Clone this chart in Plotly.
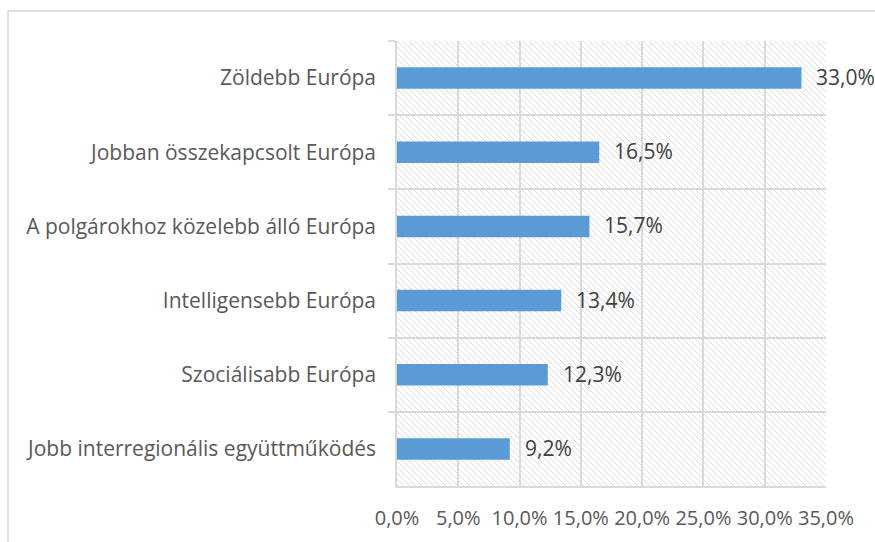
import plotly.graph_objects as go
import base64

categories = [
    "Zöldebb Európa",
    "Jobban összekapcsolt Európa",
    "A polgárokhoz közelebb álló Európa",
    "Intelligensebb Európa",
    "Szociálisabb Európa",
    "Jobb interregionális együttműködés",
]
values = [33.0, 16.5, 15.7, 13.4, 12.3, 9.2]
tick_values = [0, 5, 10, 15, 20, 25, 30, 35]
tick_labels = ["0,0%", "5,0%", "10,0%", "15,0%", "20,0%", "25,0%", "30,0%", "35,0%"]
value_labels = [f"{v:.1f}".replace(".", ",") + "%" for v in values]

FONT = "Open Sans"
W, H = 875, 542
ml, mr, mt, mb = 397, 49, 41, 56
pw, ph = W - ml - mr, H - mt - mb

# hatched background pattern for plot area
svg = (
    f'<svg xmlns="http://www.w3.org/2000/svg" width="{pw}" height="{ph}" '
    f'viewBox="0 0 {pw} {ph}" preserveAspectRatio="none">'
    '<defs><pattern id="h" patternUnits="userSpaceOnUse" width="6" height="6">'
    '<path d="M-1,-1 L7,7 M-1,5 L1,7 M5,-1 L7,1" stroke="#dcdcdc" stroke-width="1"/>'
    '</pattern></defs>'
    f'<rect width="{pw}" height="{ph}" fill="url(#h)"/></svg>'
)
uri = "data:image/svg+xml;base64," + base64.b64encode(svg.encode()).decode()

fig = go.Figure()
fig.add_trace(go.Bar(
    y=categories, x=values, orientation="h",
    marker=dict(color="#5b9bd5", line=dict(width=0)),
    width=0.29, hoverinfo="skip",
))

for cat, v, lab in zip(categories, values, value_labels):
    fig.add_annotation(x=v, y=cat, xref="x", yref="y", text=lab,
                       showarrow=False, xanchor="left", yanchor="middle",
                       xshift=13, yshift=1,
                       font=dict(family=FONT, size=21, color="#404040"))

fig.add_layout_image(dict(
    source=uri, xref="x domain", yref="y domain", x=0, y=1,
    sizex=1, sizey=1, xanchor="left", yanchor="top",
    sizing="stretch", layer="below",
))

# outer chart border (only left/top visible, chart is cropped)
fig.add_shape(type="rect", xref="paper", yref="paper",
              x0=(8 - ml) / pw, x1=(W + 20 - ml) / pw,
              y0=-(H + 20 - (H - mb)) / ph, y1=(H - mb - 11) / ph,
              line=dict(color="#d9d9d9", width=1.5), layer="below")

fig.update_layout(
    width=W, height=H,
    margin=dict(l=ml, r=mr, t=mt, b=mb, pad=0),
    paper_bgcolor="white", plot_bgcolor="white",
    showlegend=False,
    font=dict(family=FONT, size=20, color="#595959"),
    xaxis=dict(
        range=[0, 35], tickvals=tick_values, ticktext=tick_labels,
        showgrid=True, gridcolor="#d9d9d9", gridwidth=1.5,
        zeroline=False, showline=True, linecolor="#d9d9d9", linewidth=1.5,
        ticks="", ticklabelstandoff=13, automargin=False,
        tickfont=dict(family=FONT, size=20, color="#595959"),
    ),
    yaxis=dict(
        range=[5.5, -0.5], type="category",
        tickson="boundaries", ticks="outside", ticklen=7,
        tickcolor="#d9d9d9", tickwidth=1.5,
        showgrid=True, gridcolor="#d9d9d9", gridwidth=1.5,
        zeroline=False, showline=True, linecolor="#d9d9d9", linewidth=1.5,
        ticklabelstandoff=15, automargin=False,
        tickfont=dict(family=FONT, size=21, color="#595959"),
    ),
)

fig.write_html("out.html", config={"displayModeBar": False},
               post_script="document.body.style.margin='0';")
